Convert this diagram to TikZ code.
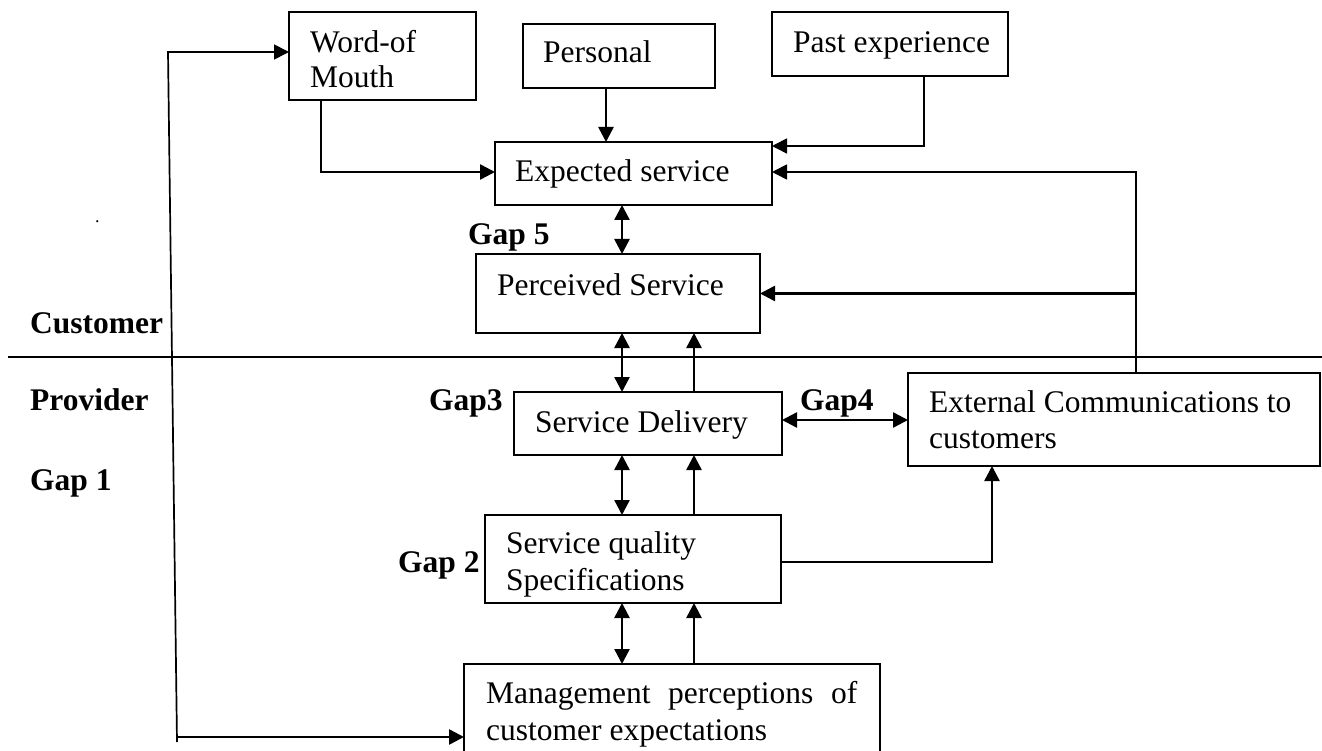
\documentclass[tikz,border=0pt]{standalone}
\usepackage{fontspec}
\setmainfont{Liberation Serif}
\usetikzlibrary{arrows.meta}
\begin{document}
\begin{tikzpicture}[x=1pt,y=-1pt,
  font=\fontsize{31.5}{36}\selectfont,
  box/.style={draw, line width=1.6pt, inner sep=0pt, outer sep=0pt, anchor=north west},
  txt/.style={anchor=base west, inner sep=0pt},
  lbl/.style={anchor=base west, inner sep=0pt, font=\fontsize{31.5}{36}\selectfont\bfseries},
  arr/.style={line width=2.5pt, -{Triangle[length=15pt,width=15pt]}},
  darr/.style={line width=2.5pt, {Triangle[length=15pt,width=15pt]}-{Triangle[length=15pt,width=15pt]}},
  thinline/.style={line width=1.7pt}]
\useasboundingbox (0,0) rectangle (1322,751);
\clip (0,0) rectangle (1322,751);
\fill[white] (0,0) rectangle (1322,751);

% boxes
\node[box, minimum width=187pt, minimum height=88pt] (wom) at (289,12) {};
\node[box, minimum width=192pt, minimum height=64pt] (pers) at (523,24) {};
\node[box, minimum width=236pt, minimum height=64pt] (past) at (772,12) {};
\node[box, minimum width=277pt, minimum height=63pt] (exp) at (495,142) {};
\node[box, minimum width=284pt, minimum height=79pt] (perc) at (476,254) {};
\node[box, minimum width=268pt, minimum height=63pt] (sd) at (514,392) {};
\node[box, minimum width=412pt, minimum height=93pt] (ecc) at (908,373) {};
\node[box, minimum width=296pt, minimum height=88pt] (sqs) at (485,515) {};
\node[box, minimum width=416pt, minimum height=110pt] (mgmt) at (464,664) {};

% texts
\node[txt] (t1) at (310,53) {Word-of};
\node[txt] (t2) at (310,88) {Mouth};
\node[txt] (t3) at (543,63) {Personal};
\node[txt] (t4) at (793,53) {Past experience};
\node[txt] (t5) at (515,182) {Expected service};
\node[txt] (t6) at (497,295) {Perceived Service};
\node[txt] (t7) at (535,432) {Service Delivery};
\node[txt] (t8) at (929,412) {External Communications to};
\node[txt] (t9) at (929,448) {customers};
\node[txt] (t10) at (506,553) {Service quality};
\node[txt] (t11) at (506,590) {Specifications};
\node[txt] (t12) at (486,703) {\makebox[371pt][s]{Management perceptions of}};
\node[txt] (t13) at (486,740) {customer expectations};
\node[txt, font=\fontsize{18}{20}\selectfont] (dot) at (95,223) {.};

% bold labels
\node[lbl] (g5) at (468,245) {Gap 5};
\node[lbl] (g3) at (429,410) {Gap3};
\node[lbl] (g4) at (800,410) {Gap4};
\node[lbl] (g2) at (398,572) {Gap 2};
\node[lbl] (cu) at (30,333) {Customer};
\node[lbl] (pr) at (30,410) {Provider};
\node[lbl] (g1) at (30,490) {Gap 1};

% helper coordinates
\coordinate (X321) at (321,0);
\coordinate (X606) at (606,0);
\coordinate (X622) at (622,0);
\coordinate (X694) at (694,0);
\coordinate (X924) at (924,0);
\coordinate (X992) at (992,0);
\coordinate (X1136) at (1136,0);
\coordinate (Y146) at (0,146);
\coordinate (Y172) at (0,172);
\coordinate (Y420) at (0,420);
\coordinate (Y562) at (0,562);
\coordinate (lt) at (168,52);
\coordinate (lb) at (177,742);
\coordinate (lm) at (177,737);
\coordinate (dl) at (8,357);
\coordinate (dr) at (1322,357);

% divider
\draw[thinline] (dl) -- (dr);

% connectors
\draw[arr] (wom.south -| X321) |- (exp.west |- Y172);
\draw[arr] (pers.south -| X606) -- (exp.north -| X606);
\draw[arr, thinline] (past.south -| X924) |- (exp.east |- Y146);
\draw[arr, thinline] (ecc.north -| X1136) |- (exp.east |- Y172);
\draw[arr] (perc.east -| X1136) -- (perc.east);
\draw[darr] (exp.south -| X622) -- (perc.north -| X622);
\draw[darr] (perc.south -| X622) -- (sd.north -| X622);
\draw[arr] (sd.north -| X694) -- (perc.south -| X694);
\draw[darr] (sd.south -| X622) -- (sqs.north -| X622);
\draw[arr] (sqs.north -| X694) -- (sd.south -| X694);
\draw[darr] (sqs.south -| X622) -- (mgmt.north -| X622);
\draw[arr] (mgmt.north -| X694) -- (sqs.south -| X694);
\draw[darr] (sd.east |- Y420) -- (ecc.west |- Y420);
\draw[arr] (sqs.east |- Y562) -| (ecc.south -| X992);
\draw[arr, thinline] (lb) -- (lt) -- (wom.west |- lt);
\draw[arr] (lm) -- (mgmt.west |- lm);
\end{tikzpicture}
\end{document}
